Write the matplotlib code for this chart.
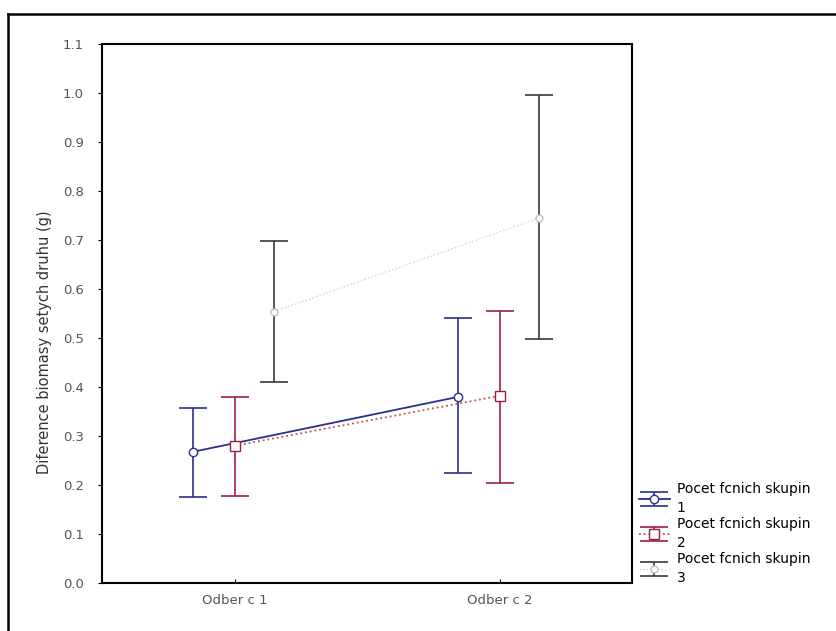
import numpy as np
import matplotlib.pyplot as plt
from matplotlib.lines import Line2D

categories = ["Odber c 1", "Odber c 2"]
series_labels = ["Pocet fcnich skupin\n1", "Pocet fcnich skupin\n2", "Pocet fcnich skupin\n3"]

means1 = [0.268, 0.380]
upper1 = [0.358, 0.540]
lower1 = [0.176, 0.225]

means2 = [0.280, 0.382]
upper2 = [0.380, 0.556]
lower2 = [0.178, 0.204]

means3 = [0.554, 0.745]
upper3 = [0.697, 0.996]
lower3 = [0.410, 0.497]

yticks = [0.0, 0.1, 0.2, 0.3, 0.4, 0.5, 0.6, 0.7, 0.8, 0.9, 1.0, 1.1]

fig = plt.figure(figsize=(8.37, 6.31), dpi=100)
ax = fig.add_axes([102 / 837, 1 - 583 / 631, 530 / 837, 539 / 631])

x = np.arange(len(categories))
offsets = [-0.155, 0.0, 0.15]
styles = [
    dict(color="#2b2f8f", ecolor="#2b2f8f", mec="#2b2f8f", ls="-", marker="o", ms=6, lw=1.3),
    dict(color="#c0504d", ecolor="#a0203c", mec="#a0203c", ls=":", marker="s", ms=7, lw=1.3),
    dict(color="#cfd8cf", ecolor="#3a3a3a", mec="#b8c8b8", ls=":", marker="o", ms=5, lw=1.0),
]
data = [(means1, upper1, lower1), (means2, upper2, lower2), (means3, upper3, lower3)]

handles = []
for (m, up, lo), off, st, lab in zip(data, offsets, styles, series_labels):
    m = np.array(m)
    yerr = [m - np.array(lo), np.array(up) - m]
    h = ax.errorbar(x + off, m, yerr=yerr, color=st["color"], ecolor=st["ecolor"],
                    ls=st["ls"], lw=st["lw"], marker=st["marker"], ms=st["ms"],
                    mfc="white", mec=st["mec"], elinewidth=1.2, capsize=10, capthick=1.2,
                    label=lab)
    handles.append(h)

ax.set_xlim(-0.5, 1.5)
ax.set_ylim(0.0, 1.1)
ax.set_xticks(x)
ax.set_xticklabels(categories, fontsize=9.5, color="#555555")
ax.set_yticks(yticks)
ax.set_yticklabels([f"{v:.1f}" for v in yticks], fontsize=9.5, color="#555555")
ax.tick_params(axis="y", direction="out", length=3, pad=10)
ax.tick_params(axis="x", direction="in", length=3, pad=8)
for s in ax.spines.values():
    s.set_linewidth(1.5)
ax.set_ylabel("Diference biomasy setych druhu (g)", fontsize=10.5, color="#333333")
ax.yaxis.set_label_coords(-0.094, 0.447)

leg = ax.legend(handles=handles, loc="upper left", bbox_to_anchor=(0.995, 0.205), frameon=False,
                fontsize=10, handlelength=2.2, labelspacing=0.15, borderaxespad=0.3,
                handletextpad=0.5)
for t in leg.get_texts():
    t.set_linespacing(1.45)

fig.add_artist(Line2D([8 / 837, 8 / 837], [0, 1 - 14 / 631], color="black", lw=1.8))
fig.add_artist(Line2D([8 / 837, 1], [1 - 14 / 631, 1 - 14 / 631], color="black", lw=1.8))

fig.savefig("out.png", dpi=100)
